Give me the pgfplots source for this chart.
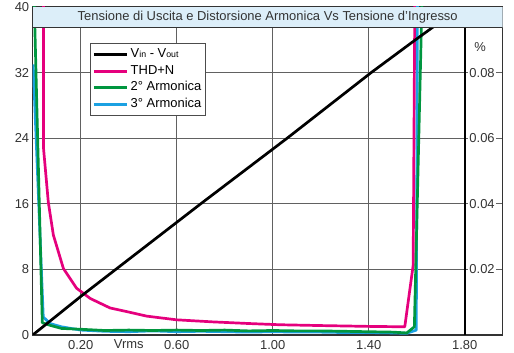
\documentclass[border=0pt]{standalone}
\usepackage{fontspec}
\setmainfont{Liberation Sans}
\usepackage{pgfplots}
\pgfplotsset{compat=1.18}
\definecolor{thd}{HTML}{E5007D}
\definecolor{h2}{HTML}{00963F}
\definecolor{h3}{HTML}{1BA1E2}
\definecolor{barc}{HTML}{DCEEF9}
\definecolor{framec}{HTML}{333333}
\newcommand{\fs}{\fontsize{13}{15}\selectfont}
\newcommand{\sm}{\fontsize{8.8}{9}\selectfont}
\begin{document}
\begin{tikzpicture}
\begin{axis}[
  name=ax, scale only axis, width=470bp, height=328bp,
  xmin=0, xmax=1.958, ymin=0, ymax=40,
  xtick={0.2,0.6,1.0,1.4,1.8}, xticklabels={0.20,0.60,1.00,1.40,1.80},
  extra x ticks={0.4}, extra x tick labels={Vrms}, extra x tick style={grid=none},
  ytick={0,8,16,24,32,40},
  grid=major, grid style={line width=0.8bp, color=black!62},
  major tick length=0pt,
  axis line style={line width=1.5bp, color=framec},
  tick label style={font=\fs, color=framec},
  xticklabel style={yshift=-1.5bp},
  /pgf/number format/assume math mode=true,
  legend style={at={(axis description cs:0.122,0.889)}, anchor=north west,
    draw=black!70, line width=0.8bp, fill=white, font=\fs,
    inner xsep=2bp, inner ysep=2bp,
    nodes={text height=9.2bp, text depth=3bp, inner sep=2.3bp}},
  legend cell align=left,
  legend image code/.code={\draw[#1, line width=3bp] (0bp,0bp) -- (33bp,0bp);},
]
\addlegendimage{black}
\addlegendimage{thd}
\addlegendimage{h2}
\addlegendimage{h3}
\legend{V{\sm in} - V{\sm out}, THD+N, 2° Armonica, 3° Armonica}

% THD+N
\addplot[forget plot, thd, line width=2.7bp, line join=round] coordinates {
(0.045,41) (0.045,22.8) (0.065,16.2) (0.086,12.2) (0.128,8.1) (0.183,5.7) (0.24,4.45)
(0.322,3.3) (0.4,2.8) (0.475,2.3) (0.6,1.85) (0.75,1.6) (0.9,1.4) (1.03,1.25)
(1.2,1.15) (1.4,1.05) (1.55,1.0) (1.585,8.5) (1.592,41)};
% 3rd harmonic
\addplot[forget plot, h3, line width=2.7bp, line join=round] coordinates {
(0.002,33) (0.044,2.2) (0.072,1.4) (0.12,1.0) (0.2,0.6) (0.3,0.45) (0.4,0.4)
(0.5,0.5) (0.6,0.4) (0.7,0.45) (0.8,0.4) (0.9,0.35) (1.0,0.4) (1.1,0.35) (1.2,0.35)
(1.3,0.3) (1.4,0.3) (1.5,0.25) (1.558,0.2) (1.598,0.6) (1.603,41)};
% 2nd harmonic
\addplot[forget plot, h2, line width=2.7bp, line join=round] coordinates {
(0.006,41) (0.04,1.5) (0.07,1.2) (0.12,0.8) (0.2,0.7) (0.3,0.55) (0.4,0.6)
(0.5,0.55) (0.6,0.6) (0.7,0.55) (0.8,0.6) (0.9,0.5) (1.0,0.55) (1.1,0.5) (1.2,0.5)
(1.3,0.45) (1.4,0.4) (1.5,0.35) (1.558,0.25) (1.59,1.0) (1.622,41)};
% Vin - Vout
\addplot[forget plot, black, line width=2.7bp, line join=round] coordinates {
(0,0) (0.2,4.7) (0.7,16) (1.06,24) (1.41,32) (1.59,35.9) (1.67,37.6) (1.75,39)};

% vertical line at 1.8
\draw[black, line width=1.6bp] (axis cs:1.8,0) -- (axis cs:1.8,37.45);
% title bar
\fill[barc] (axis cs:0,37.45) rectangle (axis cs:1.958,40);
\draw[framec, line width=0.9bp] (axis cs:0,37.45) -- (axis cs:1.958,37.45);
\node[font=\fs, text=framec] at (axis cs:0.979,38.72) {Tensione di Uscita e Distorsione Armonica Vs Tensione d'Ingresso};
% right labels
\node[font=\fs, text=framec, fill=white, inner sep=1.2bp] at (axis cs:1.872,8) {0.02};
\node[font=\fs, text=framec, fill=white, inner sep=1.2bp] at (axis cs:1.872,16) {0.04};
\node[font=\fs, text=framec, fill=white, inner sep=1.2bp] at (axis cs:1.872,24) {0.06};
\node[font=\fs, text=framec, fill=white, inner sep=1.2bp] at (axis cs:1.872,32) {0.08};
\node[font=\fs, text=framec] at (axis cs:1.864,35.1) {\%};
\node[font=\fs, text=framec] at ([xshift=-21bp]axis cs:0,35.5) {V};
\end{axis}
\pgfresetboundingbox
\path ([xshift=-32.7bp,yshift=-18bp]ax.south west) rectangle ([xshift=11.3bp,yshift=7bp]ax.north east);
\end{tikzpicture}
\end{document}
